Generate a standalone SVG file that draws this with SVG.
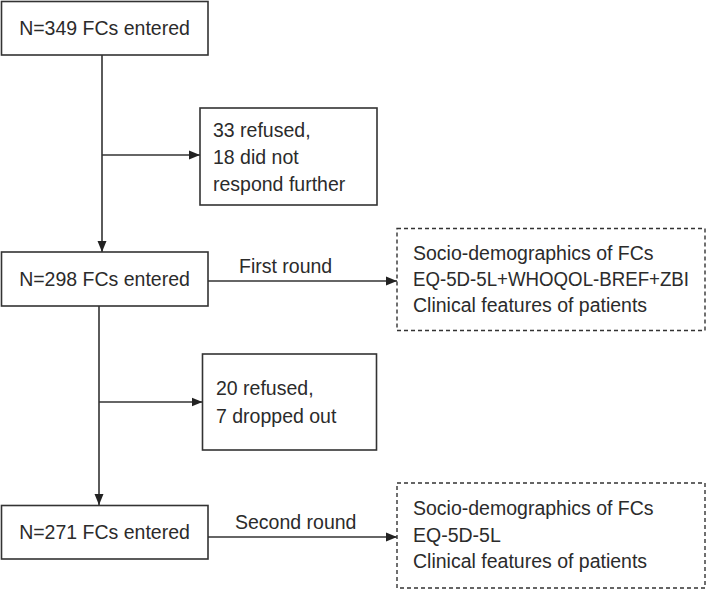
<svg xmlns="http://www.w3.org/2000/svg" width="709" height="592" viewBox="0 0 709 592">
<style>
.box{fill:#fff;stroke:#333;stroke-width:1.6}
.dash{fill:#fff;stroke:#333;stroke-width:1.4;stroke-dasharray:4 3}
.t{font-family:"Liberation Sans",Arial,sans-serif;font-size:19.5px;fill:#2b2b2b}
.c{text-anchor:middle}
.ln{fill:none;stroke:#333;stroke-width:1.6}
</style>
<defs>
<marker id="ah" markerUnits="userSpaceOnUse" markerWidth="12" markerHeight="10" refX="11" refY="5" orient="auto">
<path d="M0,0.5 L11,5 L0,9.5 Z" fill="#222"/>
</marker>
</defs>
<rect width="709" height="592" fill="#fff"/>
<g id="connectors">
<line class="ln" x1="102" y1="55" x2="102" y2="252" marker-end="url(#ah)"/>
<line class="ln" x1="102" y1="155" x2="200" y2="155" marker-end="url(#ah)"/>
<line class="ln" x1="99" y1="306" x2="99" y2="505" marker-end="url(#ah)"/>
<line class="ln" x1="99" y1="402" x2="202.5" y2="402" marker-end="url(#ah)"/>
<line class="ln" x1="208" y1="281" x2="397" y2="281" marker-end="url(#ah)"/>
<text class="t" x="239" y="273">First round</text>
<line class="ln" x1="208" y1="537" x2="397" y2="537" marker-end="url(#ah)"/>
<text class="t" x="235" y="529">Second round</text>
</g>
<g id="n349">
<rect class="box" x="1.5" y="1.5" width="206.5" height="53.5"/>
<text class="t c" x="104.5" y="35">N=349 FCs entered</text>
</g>
<g id="excl1">
<rect class="box" x="200" y="108" width="177" height="97"/>
<text class="t" x="213" y="137">33 refused,</text>
<text class="t" x="213" y="164">18 did not</text>
<text class="t" x="213" y="190.5">respond further</text>
</g>
<g id="n298">
<rect class="box" x="1.5" y="252" width="206.5" height="54"/>
<text class="t c" x="104.5" y="286">N=298 FCs entered</text>
</g>
<g id="round1">
<rect class="dash" x="397" y="228.5" width="308" height="102"/>
<text class="t" x="413" y="260">Socio-demographics of FCs</text>
<text class="t" x="413" y="286" textLength="276" lengthAdjust="spacingAndGlyphs">EQ-5D-5L+WHOQOL-BREF+ZBI</text>
<text class="t" x="413" y="311.5">Clinical features of patients</text>
</g>
<g id="excl2">
<rect class="box" x="202.5" y="354" width="174" height="96"/>
<text class="t" x="216" y="395">20 refused,</text>
<text class="t" x="216" y="422.5">7 dropped out</text>
</g>
<g id="n271">
<rect class="box" x="1.5" y="505.5" width="206.5" height="53.5"/>
<text class="t c" x="104.5" y="539">N=271 FCs entered</text>
</g>
<g id="round2">
<rect class="dash" x="397" y="483" width="308" height="105"/>
<text class="t" x="413" y="515">Socio-demographics of FCs</text>
<text class="t" x="413" y="541.5">EQ-5D-5L</text>
<text class="t" x="413" y="568">Clinical features of patients</text>
</g>
</svg>
